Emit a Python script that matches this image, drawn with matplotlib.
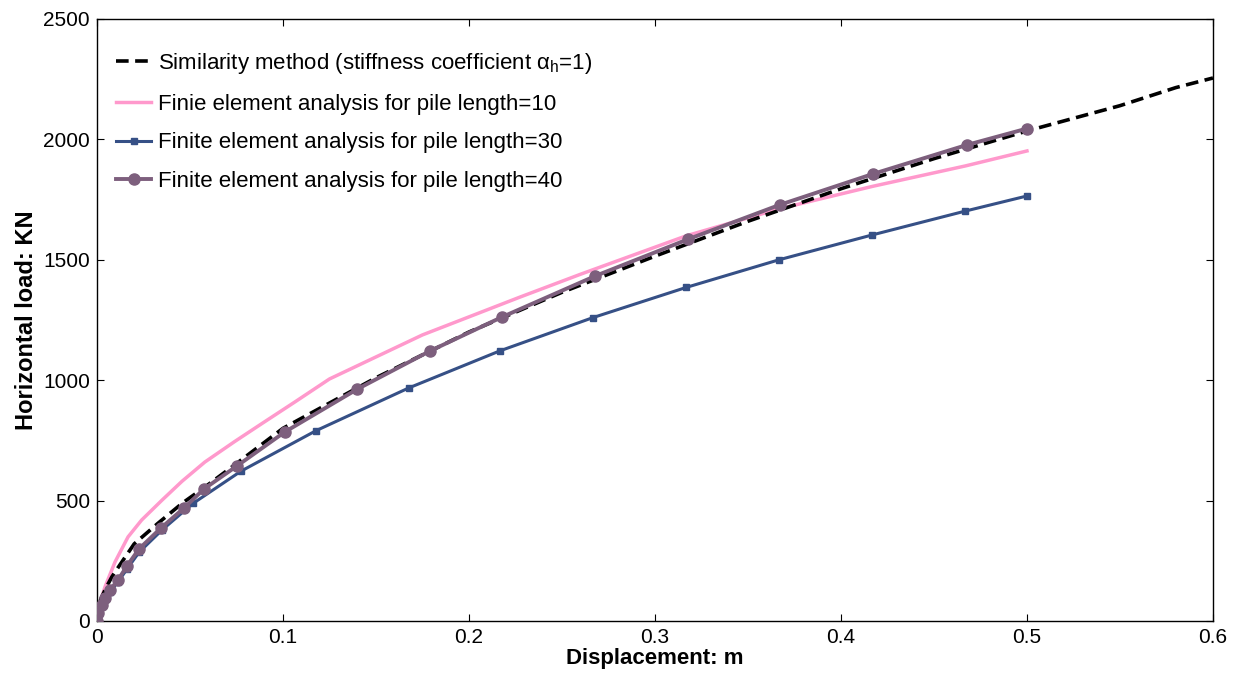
import numpy as np
import matplotlib
matplotlib.use('Agg')
import matplotlib.pyplot as plt

plt.rcParams['font.family'] = ['Liberation Sans', 'DejaVu Sans']
plt.rcParams['mathtext.fontset'] = 'custom'
plt.rcParams['mathtext.rm'] = 'Liberation Sans'

# similarity method (dashed)
sim_x = [0, 0.002, 0.005, 0.008, 0.0125, 0.02, 0.033, 0.046, 0.058, 0.074, 0.1,
         0.15, 0.2, 0.25, 0.3, 0.35, 0.4, 0.45, 0.5, 0.55, 0.58, 0.6]
sim_y = [0, 90, 140, 183, 235, 320, 407, 490, 556, 648, 800,
         1010, 1200, 1365, 1515, 1660, 1795, 1920, 2035, 2140, 2215, 2255]

# FE pile length = 10
p10_x = [0, 0.0015, 0.0043, 0.0097, 0.0167, 0.024, 0.035, 0.0457, 0.058, 0.074,
         0.0887, 0.1065, 0.125, 0.175, 0.2274, 0.26, 0.317, 0.367, 0.417, 0.467, 0.5]
p10_y = [0, 75, 141, 245, 349, 419, 502, 580, 660, 745,
         820, 910, 1005, 1188, 1345, 1440, 1600, 1712, 1805, 1890, 1952]

# FE pile length = 30
p30_x = [0, 0.0005, 0.0027, 0.0043, 0.007, 0.0113, 0.0161, 0.0226, 0.035, 0.0516,
         0.0774, 0.1177, 0.1677, 0.2167, 0.2667, 0.3167, 0.3667, 0.4167, 0.4667, 0.5]
p30_y = [0, 30, 62, 90, 122, 162, 215, 285, 378, 488,
         622, 790, 968, 1122, 1260, 1385, 1500, 1603, 1702, 1765]

# FE pile length = 40
p40_x = [0, 0.0005, 0.0027, 0.0043, 0.007, 0.0113, 0.0161, 0.0226, 0.0344, 0.0468,
         0.0575, 0.0753, 0.101, 0.14, 0.179, 0.2177, 0.268, 0.318, 0.367, 0.417,
         0.4677, 0.5]
p40_y = [0, 33, 66, 96, 129, 170, 228, 299, 386, 469,
         548, 644, 785, 963, 1121, 1262, 1433, 1586, 1728, 1856,
         1977, 2045]

fig = plt.figure(figsize=(12.4, 6.76), dpi=100)
ax = fig.add_axes([0.0782, 0.0814, 0.9, 0.8905])

ax.plot(sim_x, sim_y, color='black', lw=2.6, dashes=(3.5, 1.8),
        label='Similarity method (stiffness coefficient α$_\\mathregular{h}$=1)', zorder=4)
ax.plot(p10_x, p10_y, color='#ff99cc', lw=2.5,
        label='Finie element analysis for pile length=10', zorder=2)
ax.plot(p30_x, p30_y, color='#365086', lw=2.2, marker='s', ms=5,
        label='Finite element analysis for pile length=30', zorder=3)
ax.plot(p40_x, p40_y, color='#7d5f7d', lw=2.8, marker='o', ms=8,
        label='Finite element analysis for pile length=40', zorder=5)

ax.set_xlim(0, 0.6)
ax.set_ylim(0, 2500)
ax.set_xticks(np.arange(0, 0.61, 0.1))
ax.set_xticklabels(['0', '0.1', '0.2', '0.3', '0.4', '0.5', '0.6'])
ax.set_yticks(np.arange(0, 2501, 500))
ax.tick_params(direction='in', top=True, right=True, length=5, labelsize=15, pad=5)
for s in ax.spines.values():
    s.set_linewidth(1.0)

ax.set_xlabel('Displacement: m', fontsize=16, fontweight='bold', labelpad=1)
ax.set_ylabel('Horizontal load: KN', fontsize=17, fontweight='bold', labelpad=4)

ax.legend(loc='upper left', bbox_to_anchor=(0.009, 0.962), borderaxespad=0,
          frameon=False, fontsize=16, handlelength=1.6,
          handletextpad=0.3, labelspacing=0.8)

fig.savefig('out.png', dpi=100)
